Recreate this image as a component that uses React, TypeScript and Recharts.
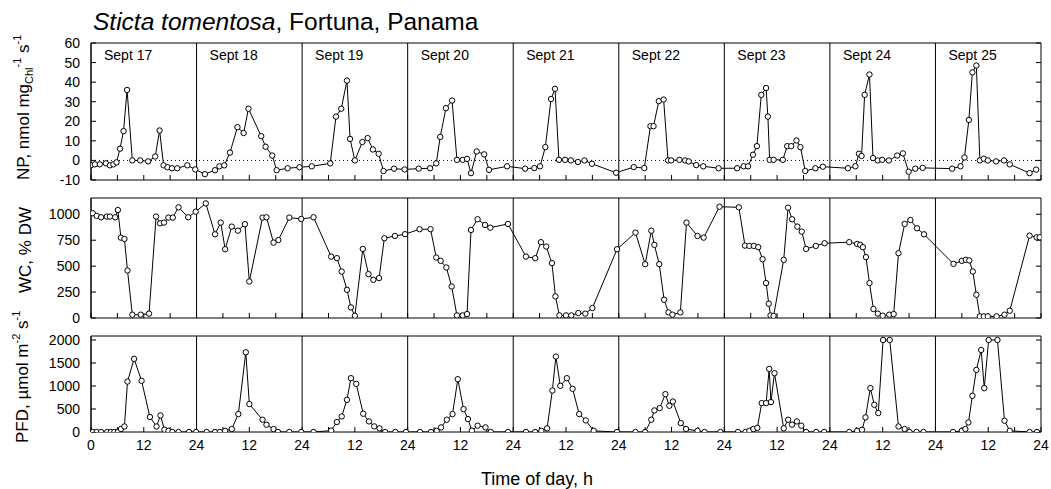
import { LineChart, Line, XAxis, YAxis, ReferenceLine, ReferenceArea } from 'recharts';

// net photosynthesis, nmol mgChl-1 s-1
const npHours = [
  0.0, 0.9, 2.0, 3.4, 4.3, 5.1, 5.8, 6.6, 7.4, 8.2, 9.4, 11.2, 13.0, 14.6, 15.6, 16.5, 17.4, 18.4, 19.6, 21.9, 23.7,
  25.9, 28.2, 29.2, 30.3, 31.6, 33.3, 34.7, 35.8, 38.7, 39.7, 41.2, 42.2, 44.7, 47.4,
  50.2, 54.4, 55.7, 56.9, 58.2, 58.9, 60.0, 61.7, 62.9, 64.1, 65.4, 66.5, 68.9, 71.3,
  74.5, 77.1, 78.5, 79.4, 80.7, 82.1, 83.2, 84.5, 85.5, 86.4, 87.7, 89.4, 90.5, 94.6,
  98.7, 100.8, 102.1, 103.3, 104.6, 105.5, 106.4, 107.8, 109.1, 110.7, 112.2, 113.9, 119.4,
  123.4, 125.8, 127.2, 127.9, 129.1, 130.2, 131.2, 131.9, 133.8, 135.1, 135.9, 137.6, 139.2, 142.7,
  146.9, 148.4, 149.4, 150.5, 151.4, 152.4, 153.5, 153.9, 154.3, 155.2, 157.3, 158.3, 159.2, 160.4, 161.3, 162.4, 164.7, 166.4,
  172.1, 173.8, 174.6, 175.2, 175.9, 177.0, 177.8, 178.9, 179.9, 181.4, 183.3, 184.6, 185.9, 187.4, 189.1,
  195.8, 197.7, 198.6, 199.6, 200.4, 201.3, 202.1, 203.0, 203.9, 205.8, 207.6, 208.9, 213.4, 214.9,
];
const npValues = [
  -2.5, -2, -2, -1.5, -2.5, -2, -1, 6, 15, 36, 0, 0, -0.5, 2, 15.3, -2.5, -3.5, -4, -4, -2.5, -4.6,
  -7, -5, -3, -2.5, 4, 17, 14, 26.4, 12.4, 7, 2.5, -5, -4, -3.5,
  -3, -1.5, 22.4, 26.4, 40.8, 11, 0, 9.4, 11.4, 5.6, 3.4, -5.4, -4.2, -4.6,
  -4.2, -4, -1.5, 12, 26.7, 30.6, 0.3, 0.3, 0.8, -6.5, 4.6, 3.1, -4.8, -3,
  -4.2, -3.9, -3, 6.8, 31.4, 36.6, 0.3, 0.3, 0, -0.8, 0, -1.7, -6.3,
  -3.4, -3.9, 17.5, 17.5, 30.3, 31.1, 0, 0, 0.3, 0, -0.5, -2.4, -3, -4,
  -4, -3, -3, 2.9, 7.3, 33.5, 37, 22.4, 0.3, 0.3, 0.3, 7.3, 7.3, 10.2, 6.8, -5.4, -4, -3.2,
  -4, -3, 3.4, 2.3, 33.5, 43.9, 1.2, 0, 0.3, 0, 2.5, 3.6, -5.8, -4.2, -3.8,
  -4.2, -3, 1.5, 20.7, 45, 48.5, 0, 0.9, 0, -0.5, 0, -2, -6.5, -4.7,
];

// water content, % DW
const wcHours = [
  0.4, 1.3, 2.3, 3.6, 4.3, 5.5, 6.1, 6.8, 7.6, 8.3, 9.4, 11.3, 13.2, 14.8, 15.7, 16.6, 17.6, 18.6, 19.9, 22.1, 23.8,
  26.1, 28.2, 29.5, 30.5, 32.0, 33.4, 35.0, 36.0, 39.0, 39.9, 41.5, 42.6, 45.1, 47.8,
  50.6, 54.6, 55.9, 57.0, 58.2, 59.1, 60.0, 61.8, 63.1, 64.2, 65.5, 66.7, 69.1, 71.4,
  74.7, 77.2, 78.5, 79.5, 80.8, 82.0, 83.2, 84.5, 85.5, 86.4, 87.9, 89.6, 90.8, 94.8,
  98.9, 101.0, 102.3, 103.5, 104.8, 105.6, 106.5, 108.0, 109.2, 110.8, 112.4, 114.0, 119.6,
  123.8, 126.0, 127.4, 128.1, 129.2, 130.3, 131.3, 132.2, 134.0, 135.4, 137.9, 139.3, 142.9,
  147.3, 148.7, 149.7, 150.7, 151.7, 152.7, 153.5, 154.1, 154.5, 155.2, 157.5, 158.5, 159.4, 160.6, 161.6, 162.6, 164.8, 166.8,
  172.4, 174.2, 174.9, 175.5, 176.2, 177.0, 177.9, 178.9, 180.0, 181.5, 182.5, 183.6, 185.0, 186.3, 187.8, 189.4,
  196.1, 198.0, 198.9, 199.7, 200.5, 201.3, 202.1, 203.0, 203.9, 205.9, 207.7, 208.9, 213.4, 215.0, 215.7,
];
const wcValues = [
  1010, 984, 971, 978, 978, 971, 1041, 775, 762, 458, 32, 32, 42, 978, 913, 920, 968, 968, 1067, 971, 1025,
  1105, 807, 920, 663, 881, 842, 904, 352, 968, 971, 727, 752, 968, 955,
  971, 592, 577, 448, 272, 102, 22, 666, 423, 368, 385, 769, 791, 808,
  856, 856, 583, 551, 487, 304, 25, 25, 38, 849, 952, 897, 871, 907,
  592, 577, 731, 689, 529, 208, 25, 25, 25, 48, 42, 96, 663,
  823, 519, 842, 705, 519, 176, 54, 32, 54, 920, 791, 775, 1073,
  1067, 698, 695, 695, 683, 567, 337, 138, 25, 20, 561, 1064, 952, 881, 833, 666, 695, 721,
  731, 714, 705, 683, 587, 337, 87, 42, 22, 32, 38, 625, 907, 945, 865, 807,
  522, 551, 561, 555, 448, 224, 16, 16, 16, 16, 32, 70, 794, 778, 778,
];

// photon flux density, umol m-2 s-1
const pfdHours = [
  0.4, 1.3, 2.3, 3.7, 4.5, 5.3, 6.1, 6.8, 7.6, 8.3, 9.8, 11.5, 13.4, 14.9, 15.8, 16.7, 17.6, 18.5, 19.9, 22.3, 23.9,
  26.3, 28.2, 29.3, 30.5, 32.0, 33.5, 35.2, 36.0, 39.0, 39.9, 41.5, 42.5, 45.1, 47.8,
  50.6, 54.6, 55.9, 57.0, 58.2, 59.1, 60.3, 61.9, 63.2, 64.4, 65.6, 66.9, 69.2, 71.6,
  74.8, 77.3, 78.6, 79.6, 80.9, 82.2, 83.4, 84.7, 85.7, 86.6, 87.9, 89.7, 90.9, 94.8,
  98.9, 101.0, 102.4, 103.7, 104.9, 105.7, 106.7, 108.2, 109.5, 111.0, 112.5, 114.3, 119.6,
  123.8, 126.0, 127.4, 128.1, 129.3, 130.6, 131.5, 132.3, 134.1, 135.3, 137.9, 139.5, 143.1,
  147.1, 148.8, 149.7, 150.6, 151.5, 152.5, 153.5, 154.2, 154.6, 155.4, 157.5, 158.5, 159.4, 160.5, 161.5, 162.6, 164.9, 166.7,
  172.4, 174.2, 175.3, 176.1, 177.2, 178.1, 179.0, 180.1, 181.6, 183.6, 185.0, 186.1, 187.7, 189.3,
  196.0, 198.0, 198.8, 199.5, 200.4, 201.3, 202.4, 203.1, 204.1, 206.1, 207.7, 208.9, 213.4, 215.1,
];
const pfdValues = [
  0, 0, 0, 0, 0, 0, 0, 65, 120, 1097, 1590, 1112, 325, 120, 360, 50, 25, 0, 0, 0, 0,
  0, 0, 0, 25, 65, 390, 1733, 607, 267, 158, 65, 0, 0, 0,
  0, 30, 216, 338, 700, 1170, 1047, 397, 230, 122, 80, 0, 0, 0,
  0, 0, 25, 100, 267, 390, 1148, 498, 282, 30, 137, 100, 0, 0,
  0, 0, 25, 80, 902, 1640, 1004, 1170, 938, 390, 252, 25, 0,
  0, 0, 267, 469, 520, 823, 570, 663, 195, 65, 25, 0, 0,
  0, 0, 25, 65, 90, 628, 628, 1372, 650, 1278, 80, 267, 160, 230, 137, 0, 0, 0,
  0, 25, 50, 317, 953, 592, 412, 2000, 2000, 120, 65, 0, 0, 0,
  0, 25, 65, 208, 787, 1350, 1783, 953, 2000, 2000, 245, 25, 0, 0,
];

const dayStarts = [0, 24, 48, 72, 96, 120, 144, 168, 192];
const dayLabels = ['Sept 17', 'Sept 18', 'Sept 19', 'Sept 20', 'Sept 21', 'Sept 22', 'Sept 23', 'Sept 24', 'Sept 25'];
const hourTicks = [
  0, 6, 12, 18, 24, 30, 36, 42, 48, 54, 60, 66, 72, 78, 84, 90, 96, 102, 108, 114, 120,
  126, 132, 138, 144, 150, 156, 162, 168, 174, 180, 186, 192, 198, 204, 210, 216,
];
const npTicks = [-10, 0, 10, 20, 30, 40, 50, 60];
const wcTicks = [0, 250, 500, 750, 1000];
const pfdTicks = [0, 500, 1000, 1500, 2000];

const zip = (hs: number[], vs: number[]) => hs.map((h, i) => ({ h, v: vs[i] }));
const npData = zip(npHours, npValues);
const wcData = zip(wcHours, wcValues);
const pfdData = zip(pfdHours, pfdValues);

const hourLabel = (h: number) => {
  if (h % 12 !== 0) return '';
  if (h === 0) return '0';
  return h % 24 === 0 ? '24' : '12';
};

type PanelProps = {
  data: { h: number; v: number }[];
  domain: [number, number];
  ticks: number[];
  top: number;
  plotHeight: number;
  showX?: boolean;
  zeroLine?: boolean;
  labels?: boolean;
};

const Panel = ({ data, domain, ticks, top, plotHeight, showX, zeroLine, labels }: PanelProps) => {
  const xH = showX ? 28 : 12;
  return (
    <div style={{ position: 'absolute', left: 0, top: top - 10 }}>
      <LineChart width={1051} height={10 + plotHeight + xH} data={data} margin={{ top: 10, right: 0, bottom: 0, left: 0 }}>
        <XAxis
          dataKey="h"
          type="number"
          domain={[0, 216]}
          ticks={hourTicks}
          interval={0}
          axisLine={false}
          tickSize={-5}
          tickMargin={13}
          height={xH}
          stroke="#000"
          tick={{ fill: '#000', fontSize: 14 }}
          tickFormatter={showX ? hourLabel : () => ''}
          allowDataOverflow
        />
        <YAxis
          type="number"
          domain={domain}
          ticks={ticks}
          interval={0}
          width={91}
          axisLine={false}
          tickSize={-5}
          tickMargin={16}
          stroke="#000"
          tick={{ fill: '#000', fontSize: 14 }}
          allowDataOverflow
        />
        <YAxis
          yAxisId="r"
          orientation="right"
          type="number"
          domain={domain}
          ticks={ticks}
          interval={0}
          width={10}
          axisLine={false}
          tickSize={-5}
          stroke="#000"
          tickFormatter={() => ''}
          allowDataOverflow
        />
        {zeroLine && <ReferenceLine y={0} stroke="#000" strokeWidth={1} strokeDasharray="1 3" />}
        {dayStarts.map((d, i) => (
          <ReferenceLine
            key={d}
            x={d}
            stroke="#000"
            strokeWidth={1}
            label={labels ? { value: dayLabels[i], position: 'insideTopLeft', offset: 7, dx: 6, fill: '#000', fontSize: 14 } : undefined}
          />
        ))}
        <ReferenceArea x1={0} x2={216} y1={domain[0]} y2={domain[1]} fill="none" stroke="#000" strokeWidth={1} />
        <Line
          type="linear"
          dataKey="v"
          stroke="#000"
          strokeWidth={1}
          dot={{ r: 2.7, fill: '#fff', stroke: '#000', strokeWidth: 1 }}
          isAnimationActive={false}
        />
      </LineChart>
    </div>
  );
};

export default function App() {
  return (
    <div
      style={{
        position: 'absolute',
        left: 0,
        top: 0,
        width: 1051,
        height: 489,
        background: '#fff',
        fontFamily: 'Arial, "Liberation Sans", sans-serif',
      }}
    >
      <Panel data={npData} domain={[-10, 60]} ticks={npTicks} top={43} plotHeight={137} zeroLine labels />
      <Panel data={wcData} domain={[0, 1157]} ticks={wcTicks} top={198} plotHeight={120} />
      <Panel data={pfdData} domain={[0, 2087]} ticks={pfdTicks} top={336} plotHeight={96} showX />
      <svg width={1051} height={489} style={{ position: 'absolute', left: 0, top: 0, pointerEvents: 'none' }}>
        <text x={93} y={30} fontSize={24.5} fill="#000">
          <tspan fontStyle="italic">Sticta tomentosa</tspan>, Fortuna, Panama
        </text>
        <text transform="translate(29,180) rotate(-90)" fontSize={17} fill="#000">
          NP, nmol mg
          <tspan dy={4} fontSize={11}>Chl</tspan>
          <tspan dy={-12} fontSize={11}>-1</tspan>
          <tspan dy={8}> s</tspan>
          <tspan dy={-8} fontSize={11}>-1</tspan>
        </text>
        <text transform="translate(31,250) rotate(-90)" fontSize={17} fill="#000" textAnchor="middle">
          WC, % DW
        </text>
        <text transform="translate(28,443) rotate(-90)" fontSize={17} fill="#000">
          PFD, µmol m
          <tspan dy={-8} fontSize={11}>-2</tspan>
          <tspan dy={8}> s</tspan>
          <tspan dy={-8} fontSize={11}>-1</tspan>
        </text>
        <text x={537} y={485} fontSize={18} fill="#000" textAnchor="middle">
          Time of day, h
        </text>
      </svg>
    </div>
  );
}
